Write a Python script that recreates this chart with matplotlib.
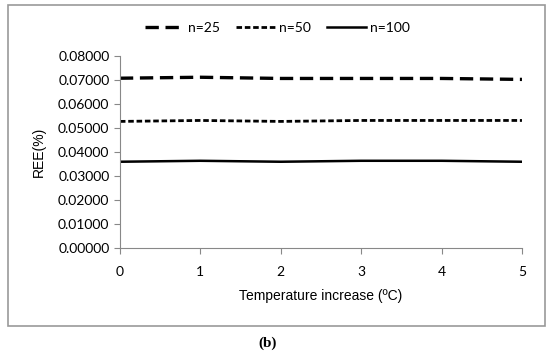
import matplotlib
matplotlib.use('Agg')
import matplotlib.pyplot as plt
from matplotlib.patches import Rectangle
from matplotlib.ticker import FormatStrFormatter

# data
temp = [0, 1, 2, 3, 4, 5]
ree_n25 = [0.0708, 0.0712, 0.0707, 0.0707, 0.0707, 0.0703]
ree_n50 = [0.0528, 0.0532, 0.0528, 0.0532, 0.0532, 0.0532]
ree_n100 = [0.0360, 0.0364, 0.0360, 0.0364, 0.0364, 0.0360]

fig = plt.figure(figsize=(5.5, 3.53), dpi=100)
ax = fig.add_axes([0.218, 0.297, 0.731, 0.544])

ax.plot(temp, ree_n25, color='black', lw=2.4, dashes=(4, 2), label='n=25')
ax.plot(temp, ree_n50, color='black', lw=2.0, dashes=(2, 1), label='n=50')
ax.plot(temp, ree_n100, color='black', lw=1.8, label='n=100')

ax.set_xlim(0, 5)
ax.set_ylim(0, 0.08)
ax.set_yticks([i * 0.01 for i in range(9)])
ax.yaxis.set_major_formatter(FormatStrFormatter('%.5f'))

for s in ['top', 'right']:
    ax.spines[s].set_visible(False)
for s in ['left', 'bottom']:
    ax.spines[s].set_color('#888888')
ax.tick_params(colors='#888888', length=4, width=0.8, labelcolor='black')
ax.tick_params(axis='x', pad=9)
for lab in ax.get_yticklabels() + ax.get_xticklabels():
    lab.set_fontfamily('Lato')
    lab.set_fontsize(10)

ax.set_ylabel('REE(%)', family='Liberation Sans', fontsize=10, labelpad=9)
ax.set_xlabel('Temperature increase (ºC)', family='Liberation Sans', fontsize=10, labelpad=8)

fig.legend(loc='center', bbox_to_anchor=(0.504, 0.921), ncol=3, frameon=False,
           prop={'family': 'Lato', 'size': 10}, handlelength=2.8,
           columnspacing=1.15, handletextpad=0.3)

# outer frame around the chart
fig.patches.append(Rectangle((0.0145, 0.076), 0.977, 0.91, transform=fig.transFigure,
                             fill=False, edgecolor='#999999', lw=1.2))

fig.text(0.487, 0.028, '(b)', ha='center', va='center', family='Liberation Serif',
         fontweight='bold', fontsize=11)

fig.savefig('out.png', dpi=100)
